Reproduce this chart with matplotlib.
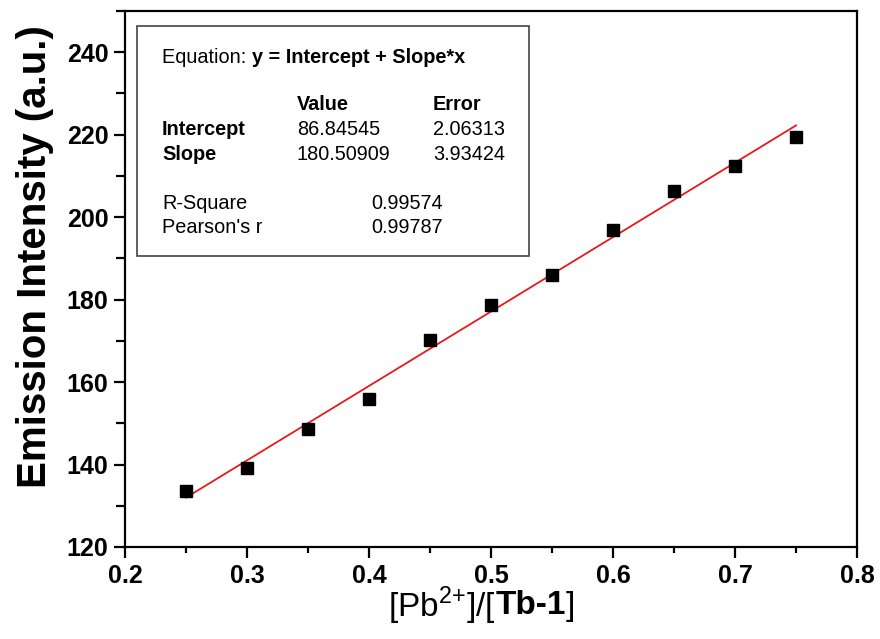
import numpy as np
import matplotlib
matplotlib.use("Agg")
import matplotlib.pyplot as plt
from matplotlib.ticker import MultipleLocator

plt.rcParams['font.family'] = ['Liberation Sans', 'DejaVu Sans']
plt.rcParams['mathtext.fontset'] = 'custom'
plt.rcParams['mathtext.rm'] = 'Liberation Sans'
plt.rcParams['mathtext.bf'] = 'Liberation Sans:bold'

# data
ratio = [0.25, 0.30, 0.35, 0.40, 0.45, 0.50, 0.55, 0.60, 0.65, 0.70, 0.75]
intensity = [133.6, 139.2, 148.7, 155.8, 170.1, 178.6, 185.9, 196.8, 206.3, 212.5, 219.4]

# fit results printed in the box
intercept, intercept_err = 86.84545, 2.06313
slope, slope_err = 180.50909, 3.93424
r_square = 0.99574
pearson_r = 0.99787

fig = plt.figure(figsize=(8.8, 6.39), dpi=100)
ax = fig.add_axes([0.142, 0.144, 0.832, 0.839])

ax.plot(ratio, intensity, 's', color='black', markersize=9, zorder=3)
xfit = np.array([ratio[0], ratio[-1]])
ax.plot(xfit, intercept + slope * xfit, color='#e8191b', linewidth=1.3, zorder=2)

ax.set_xlim(0.2, 0.8)
ax.set_ylim(120, 250)
ax.xaxis.set_major_locator(MultipleLocator(0.1))
ax.xaxis.set_minor_locator(MultipleLocator(0.05))
ax.yaxis.set_minor_locator(MultipleLocator(10))
ax.set_yticks([120, 140, 160, 180, 200, 220, 240])
for s in ax.spines.values():
    s.set_linewidth(1.6)
ax.tick_params(which='major', direction='out', length=8, width=1.6,
               labelsize=18, pad=4)
ax.tick_params(axis='x', which='minor', direction='out', length=4.5, width=1.6)
ax.tick_params(axis='y', which='minor', direction='out', length=6.5, width=1.6)
for lab in ax.get_xticklabels() + ax.get_yticklabels():
    lab.set_fontweight('bold')
ax.xaxis.set_major_formatter(plt.FuncFormatter(lambda v, p: f'{v:.1f}'))

ax.set_ylabel('Emission Intensity (a.u.)', fontsize=29, fontweight='bold')
ax.yaxis.set_label_coords(-0.097, 0.541)

# x label: regular part + bold part
t1 = fig.text(388 / 880, 1 - 606 / 639, '[Pb$^{2{+}}$]/[', fontsize=24,
              va='center', ha='left')
t2 = ax.annotate('Tb-1', xy=(1, 0.5), xycoords=t1, va='center', ha='left',
                 fontsize=24, fontweight='bold', annotation_clip=False)
t3 = ax.annotate(']', xy=(1, 0.5), xycoords=t2, va='center', ha='left',
                 fontsize=24, annotation_clip=False)

# fit result box
box = plt.Rectangle((0.016, 0.543), 0.536, 0.429, transform=ax.transAxes,
                    facecolor='white', edgecolor='#444444', linewidth=1.2, zorder=4)
ax.add_patch(box)

fs = 14.3
def px(x, y):
    return ((x - 125) / 732, (547 - y) / 536)

e1 = ax.text(*px(162, 58), 'Equation: ', transform=ax.transAxes, fontsize=fs,
             va='center', ha='left', zorder=5)
ax.annotate('y = Intercept + Slope*x', xy=(1, 0.5), xycoords=e1, va='center',
            ha='left', fontsize=fs, fontweight='bold', zorder=5)

ax.text(*px(297, 105), 'Value', transform=ax.transAxes, fontsize=fs,
        fontweight='bold', va='center', zorder=5)
ax.text(*px(433, 105), 'Error', transform=ax.transAxes, fontsize=fs,
        fontweight='bold', va='center', zorder=5)
ax.text(*px(162, 130), 'Intercept', transform=ax.transAxes, fontsize=fs,
        fontweight='bold', va='center', zorder=5)
ax.text(*px(297, 130), f'{intercept:.5f}', transform=ax.transAxes, fontsize=fs,
        va='center', zorder=5)
ax.text(*px(433, 130), f'{intercept_err:.5f}', transform=ax.transAxes, fontsize=fs,
        va='center', zorder=5)
ax.text(*px(162, 155), 'Slope', transform=ax.transAxes, fontsize=fs,
        fontweight='bold', va='center', zorder=5)
ax.text(*px(297, 155), f'{slope:.5f}', transform=ax.transAxes, fontsize=fs,
        va='center', zorder=5)
ax.text(*px(433, 155), f'{slope_err:.5f}', transform=ax.transAxes, fontsize=fs,
        va='center', zorder=5)
ax.text(*px(162, 204), 'R-Square', transform=ax.transAxes, fontsize=fs,
        va='center', zorder=5)
ax.text(*px(371, 204), f'{r_square:.5f}', transform=ax.transAxes, fontsize=fs,
        va='center', zorder=5)
ax.text(*px(162, 228), "Pearson's r", transform=ax.transAxes, fontsize=fs,
        va='center', zorder=5)
ax.text(*px(371, 228), f'{pearson_r:.5f}', transform=ax.transAxes, fontsize=fs,
        va='center', zorder=5)

fig.savefig('out.png', dpi=100)
